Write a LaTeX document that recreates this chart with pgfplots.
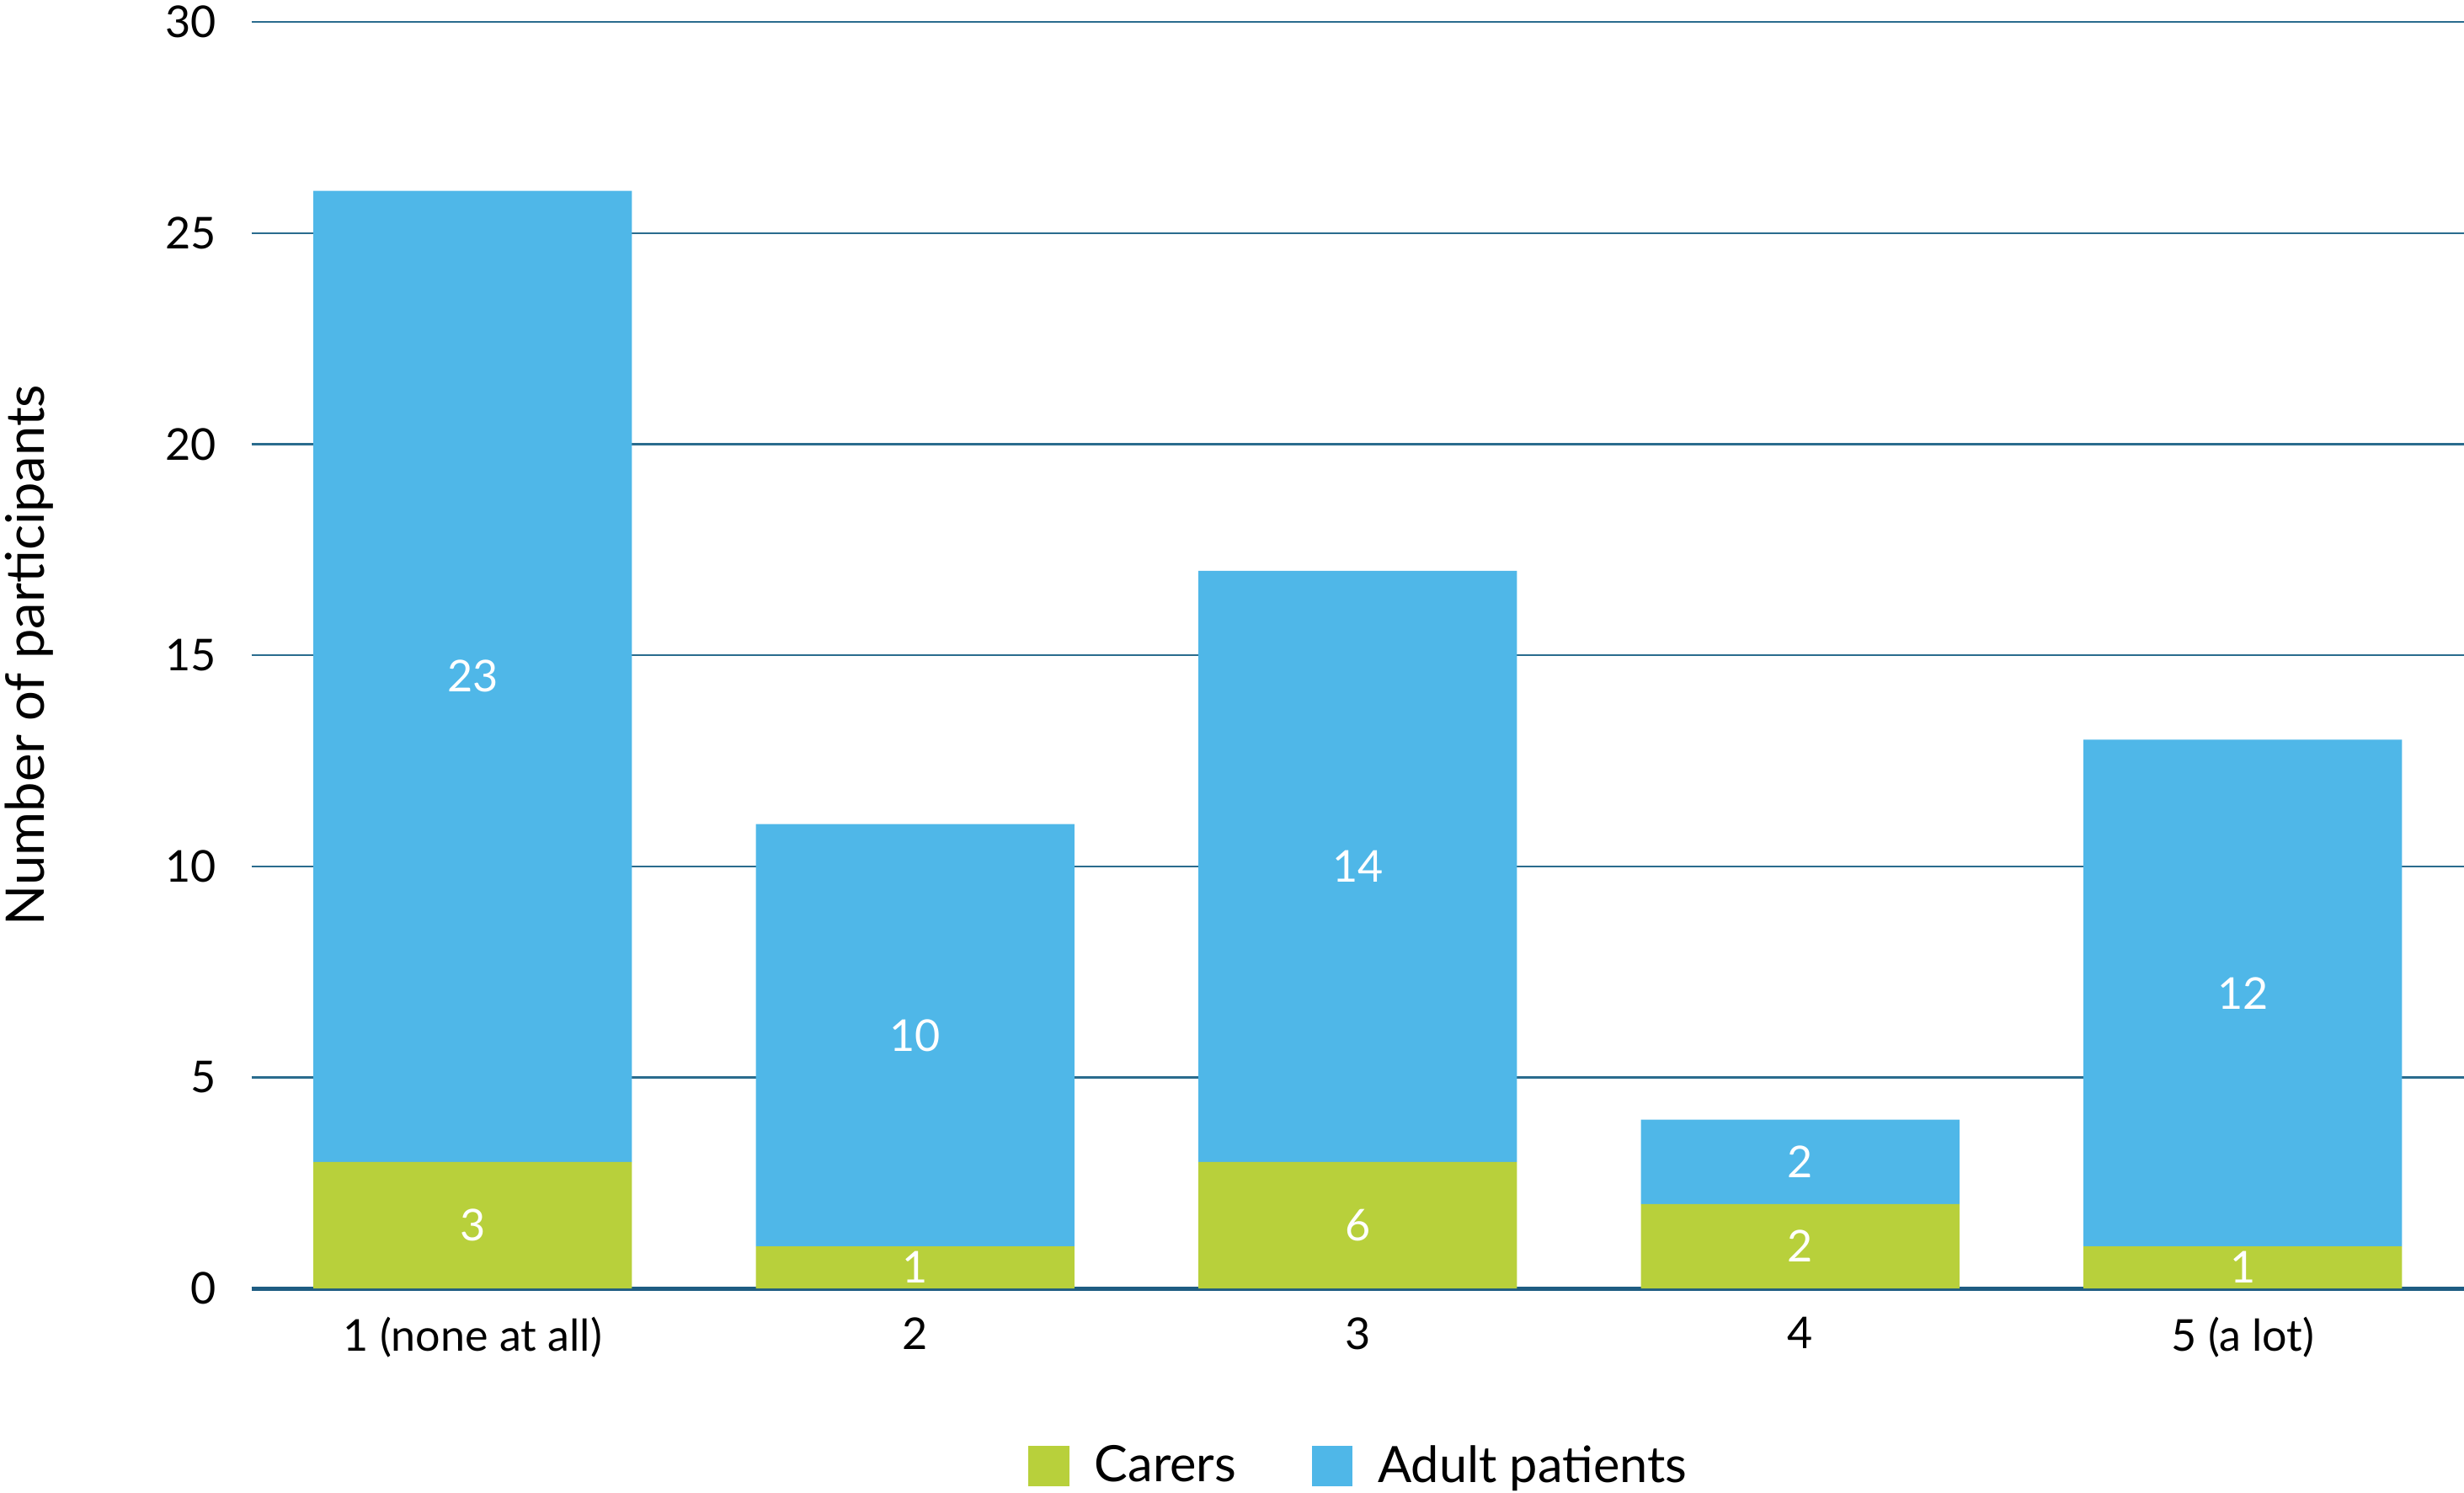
\documentclass[border=0pt]{standalone}
\usepackage{pgfplots}
\pgfplotsset{compat=1.18}
\usepackage{fontspec}
\setmainfont{Lato}
\definecolor{carers}{HTML}{B8D03B}
\definecolor{adults}{HTML}{4FB7E8}
\definecolor{gridblue}{HTML}{2A6C8E}
\definecolor{baseblue}{HTML}{1E5C82}
\begin{document}
\begin{tikzpicture}
\begin{axis}[
  scale only axis, width=704bp, height=403bp,
  ybar stacked, bar width=0.72,
  xmin=0.5, xmax=5.5, ymin=0, ymax=30,
  xtick={1,...,5},
  xticklabels={1 (none at all),2,3,4,5 (a lot)},
  ytick={0,5,...,30},
  major tick length=0pt,
  axis line style={draw=none},
  ymajorgrids, grid style={gridblue, line width=0.55bp},
  extra y ticks={0}, extra y tick labels={},
  extra y tick style={grid style={baseblue, line width=1.4bp}},
  /pgf/number format/assume math mode=true,
  tick label style={font=\fontsize{14}{16}\selectfont},
  yticklabel style={anchor=east, inner sep=0pt, xshift=-11bp},
  xticklabel style={anchor=north, inner sep=0pt, yshift=-9bp},
  ylabel={Number of participants},
  every axis y label/.style={at={(rel axis cs:-0.1005,0.5)}, rotate=90, anchor=center,
    font=\fontsize{17}{20}\selectfont},
  legend style={at={(rel axis cs:0.5,-0.1402)}, anchor=center, draw=none,
    legend columns=-1, font=\fontsize{16}{19}\selectfont, inner sep=0pt,
    nodes={inner sep=0pt},
    /tikz/every odd column/.append style={column sep=8bp},
    /tikz/every even column/.append style={column sep=24bp}},
  legend image code/.code={\fill[#1] (0bp,-6.5bp) rectangle (13bp,6.5bp);},
  % labels as printed in the source (the third carers bar is labelled 6)
  point meta=explicit symbolic,
  nodes near coords,
  every node near coord/.append style={white, font=\fontsize{14}{16}\selectfont,
    anchor=center},
]
\addplot[fill=carers, draw=none] coordinates {(1,3)[3] (2,1)[1] (3,3)[6] (4,2)[2] (5,1)[1]};
\addplot[fill=adults, draw=none] coordinates {(1,23)[23] (2,10)[10] (3,14)[14] (4,2)[2] (5,12)[12]};
\legend{Carers, Adult patients}
\end{axis}
\pgfresetboundingbox
\path[use as bounding box] ([xshift=-80bp, yshift=-65bp]current axis.south west)
  rectangle ([yshift=7bp]current axis.north east);
\end{tikzpicture}
\end{document}
